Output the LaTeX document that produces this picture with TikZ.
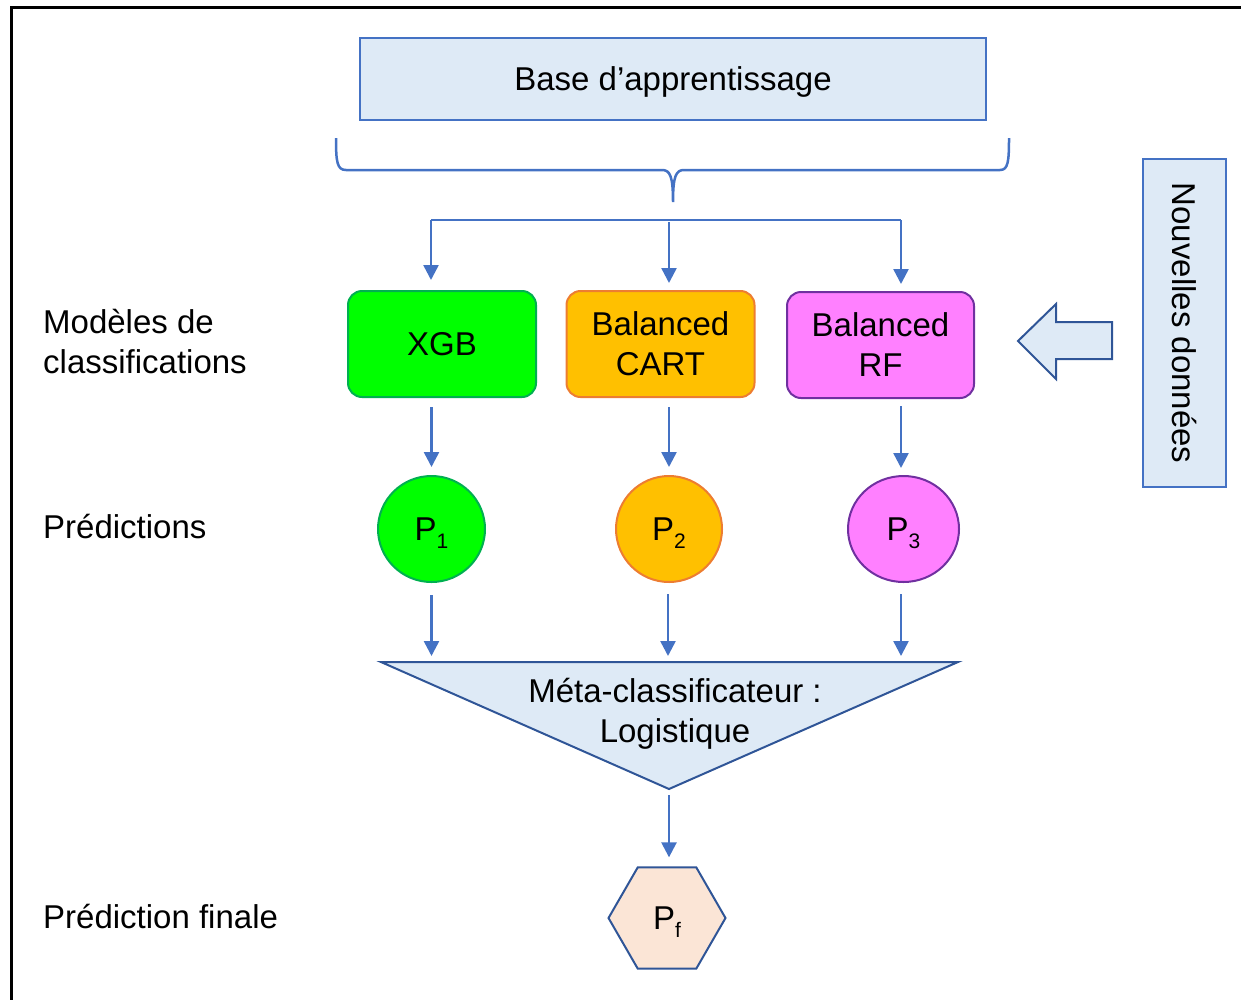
\documentclass[tikz,border=0pt]{standalone}
\usepackage{fontspec}
\setmainfont{Liberation Sans}
\usetikzlibrary{arrows.meta,shapes.geometric}

\definecolor{lineblue}{HTML}{4472C4}
\definecolor{darkblue}{HTML}{2F5597}
\definecolor{paleblue}{HTML}{DEEAF6}
\definecolor{xgbfill}{HTML}{00FF00}
\definecolor{xgbline}{HTML}{00B050}
\definecolor{cartfill}{HTML}{FFC000}
\definecolor{cartline}{HTML}{ED7D31}
\definecolor{rffill}{HTML}{FF80FF}
\definecolor{rfline}{HTML}{7030A0}
\definecolor{peach}{HTML}{FBE5D6}

\newcommand{\bigtext}{\fontsize{33}{40}\selectfont}
\newcommand{\predsym}[1]{P\smash{\raisebox{-8pt}{\fontsize{21}{21}\selectfont #1}}}

\tikzset{
  txt/.style={font=\bigtext, text=black, align=center},
  sidelabel/.style={font=\bigtext, text=black, align=left, anchor=west, inner sep=0pt},
  bluebox/.style={txt, draw=lineblue, line width=2pt, fill=paleblue, inner sep=0pt, text depth=0pt},
  model/.style={txt, rounded corners=14pt, line width=2pt, minimum width=188, minimum height=106, inner sep=0pt},
  pred/.style={txt, ellipse, line width=2pt, minimum height=106, inner sep=0pt},
  arr/.style={draw=lineblue, line width=2.5pt, -{Triangle[width=15pt,length=15pt]}},
  bus/.style={draw=lineblue, line width=2.5pt},
  bracestyle/.style={draw=lineblue, line width=2.5pt},
}

\begin{document}
\begin{tikzpicture}[x=1pt,y=-1pt]
\useasboundingbox (0,0) rectangle (1241,999);

% outer frame (only its top and left edges lie inside the page)
\draw[line width=3pt, black] (11,1010) -- (11,7) -- (1250,7);

% training base and its brace
\node[bluebox, minimum width=626, minimum height=82] (base) at (673,79) {Base d’apprentissage};
\coordinate (braceL) at (336,138);
\coordinate (braceR) at (1009,138);
\coordinate (braceTip) at (673,202);
\draw[bracestyle] (braceL) .. controls (336,162) and (337,170) .. (346,170)
  -- (662,170) .. controls (670,170) and (673,176) .. (braceTip)
  .. controls (673,176) and (676,170) .. (684,170)
  -- (1000,170) .. controls (1008,170) and (1009,162) .. (braceR);

% models
\node[model, fill=xgbfill, draw=xgbline, text depth=0pt] (xgb) at (442,344) {XGB};
\node[model, fill=cartfill, draw=cartline] (cart) at (660.5,344) {Balanced\\CART};
\node[model, fill=rffill, draw=rfline, minimum width=187] (rf) at (880.5,345) {Balanced\\RF};

% predictions
\node[pred, fill=xgbfill, draw=xgbline, minimum width=107] (p1) at (431.5,529) {\predsym{1}};
\node[pred, fill=cartfill, draw=cartline, minimum width=106] (p2) at (669,529) {\predsym{2}};
\node[pred, fill=rffill, draw=rfline, minimum width=111] (p3) at (903.5,529) {\predsym{3}};

% distribution bus
\coordinate (busL) at (431,220);
\coordinate (busM) at (669,220);
\coordinate (busR) at (901,220);
\draw[bus] (busL) -- (busR);
\draw[arr, shorten >=10pt] (busL) -- (busL |- xgb.north);
\draw[arr, shorten >=7pt, shorten <=2pt] (busM) -- (busM |- cart.north);
\draw[arr, shorten >=7pt] (busR) -- (busR |- rf.north);

% models to predictions
\draw[arr, shorten <=9pt, shorten >=8pt] (p1 |- xgb.south) -- (p1.north);
\draw[arr, shorten <=9pt, shorten >=8pt] (p2 |- cart.south) -- (p2.north);
\draw[arr, shorten <=8pt, shorten >=8pt] (901,398) -- (901,476);

% meta-classifier
\coordinate (tL) at (381,662);
\coordinate (tR) at (958,662);
\coordinate (tB) at (669,789);
\draw[draw=darkblue, line width=2pt, fill=paleblue, line join=miter] (tL) -- (tR) -- (tB) -- cycle;
\node[txt, inner sep=0pt] (meta) at (675,714) {Méta-classificateur :\\Logistique};

% predictions to meta-classifier
\draw[arr, shorten <=12pt, shorten >=6pt] (p1.south) -- (p1.south |- tL);
\draw[arr, shorten <=12pt, shorten >=6pt] (668,582) -- (668,662);
\draw[arr, shorten <=12pt, shorten >=6pt] (901,582) -- (901,662);

% final prediction
\node[txt, regular polygon, regular polygon sides=6, minimum size=117, inner sep=0pt,
      draw=darkblue, line width=2pt, fill=peach] (pf) at (667,918) {\predsym{f}};
\draw[arr, shorten <=6pt, shorten >=9pt] (tB) -- (tB |- pf.north);

% new data
\node[bluebox, rotate=-90, minimum width=328, minimum height=83] (new) at (1184.5,323) {Nouvelles données};
\draw[draw=darkblue, line width=2pt, fill=paleblue, line join=miter]
  (1018,341) -- (1056,304) -- (1056,322) -- (1112,322) -- (1112,359) -- (1056,359) -- (1056,379) -- cycle;

% row labels
\node[sidelabel] (lmod) at (43,342) {Modèles de\\classifications};
\node[sidelabel] (lpred) at (43,527) {Prédictions};
\node[sidelabel] (lfin) at (43,916) {Prédiction finale};
\end{tikzpicture}
\end{document}
